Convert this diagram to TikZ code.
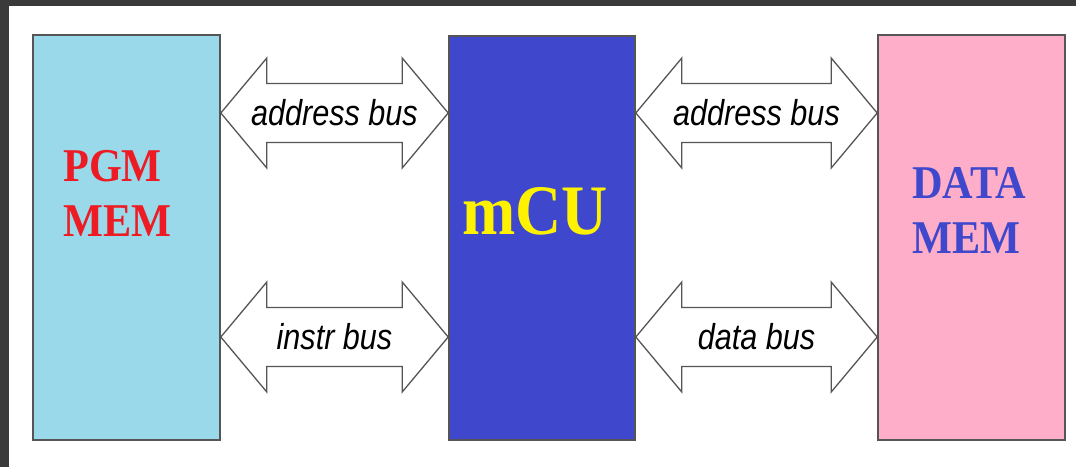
\documentclass[tikz,border=0pt]{standalone}
\usepackage{fontspec}
\setmainfont{Liberation Serif}
\setsansfont{Liberation Sans}
\usetikzlibrary{positioning,calc}
\definecolor{frame}{HTML}{3A3A3A}
\definecolor{edge}{HTML}{555555}
\definecolor{pgmfill}{HTML}{99D9EA}
\definecolor{pgmink}{HTML}{ED1C24}
\definecolor{mcufill}{HTML}{3F48CC}
\definecolor{mcuink}{HTML}{FFF200}
\definecolor{datafill}{HTML}{FFAEC9}
\definecolor{dataink}{HTML}{3F48CC}

\begin{document}
\begin{tikzpicture}[x=1pt,y=-1pt,
  membox/.style={draw=edge,line width=1.6pt,minimum width=187pt,minimum height=405pt,inner sep=0pt},
  memtext/.style={font=\fontsize{47}{55}\selectfont\bfseries,align=left,anchor=north west,inner sep=0pt},
  busline/.style={draw=edge,fill=white,line width=1.3pt,line join=miter},
  buslabel/.style={font=\fontsize{36}{40}\selectfont\sffamily\itshape,inner sep=0pt}]
  \useasboundingbox (0,0) rectangle (1076,467);
  \fill[white] (0,0) rectangle (1076,467);
  \fill[frame] (0,0) rectangle (1076,6);
  \fill[frame] (0,0) rectangle (9,467);
  % memories and controller
  \node[membox,fill=pgmfill] (pgm) at (126.5,237.5) {};
  \node[membox,fill=mcufill,minimum width=186pt,minimum height=404pt] (mcu) at (542,238) {};
  \node[membox,fill=datafill] (data) at (971.5,237.5) {};
  \node[memtext,text=pgmink] (pgmlbl) at (63,150) {\scalebox{0.9}[1]{PGM}\\\scalebox{0.9}[1]{MEM}};
  \node[memtext,text=dataink] (datalbl) at (912,167) {\scalebox{0.9}[1]{DATA}\\\scalebox{0.9}[1]{MEM}};
  \node[font=\fontsize{71}{71}\selectfont\bfseries,text=mcuink,inner sep=0pt] (mculbl) at (535,211.5) {\scalebox{0.9}[1]{mCU}};
  % buses: from, to, y, label
  \foreach \a/\b/\y/\lab in {pgm/mcu/113/address bus, pgm/mcu/337/instr bus,
      mcu/data/113/address bus, mcu/data/337/data bus} {
    \coordinate (busL) at (\a.east |- 0,\y);
    \coordinate (busR) at (\b.west |- 0,\y);
    \draw[busline] (busL) -- ++(46,-55) -- ++(0,25.5) -- ($(busR)+(-46,-29.5)$) -- ++(0,-25.5)
      -- (busR) -- ++(-46,55) -- ++(0,-25.5) -- ($(busL)+(46,29.5)$) -- ++(0,25.5) -- cycle;
    \node[buslabel] (lbl-\a-\y) at ($(busL)!0.5!(busR)$) {\scalebox{0.85}[1]{\lab}};
  }
\end{tikzpicture}
\end{document}
